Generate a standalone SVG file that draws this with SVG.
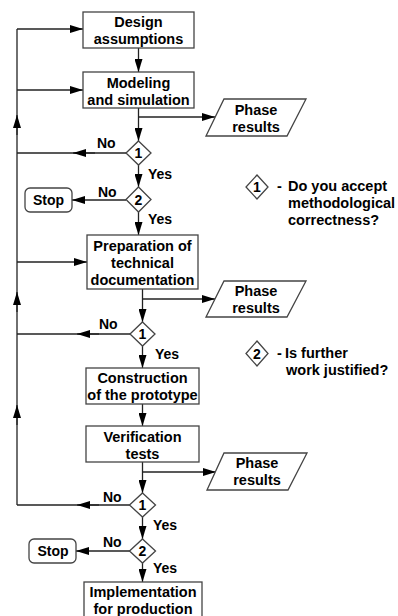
<svg xmlns="http://www.w3.org/2000/svg" width="398" height="616" viewBox="0 0 398 616">
<style>
.box{fill:#fff;stroke:#444;stroke-width:1.3}
.ln{fill:none;stroke:#222;stroke-width:1.3}
.t{font-family:"Liberation Sans",Arial,sans-serif;font-weight:bold;font-size:14.5px;fill:#000;text-anchor:middle}
.l{font-family:"Liberation Sans",Arial,sans-serif;font-weight:bold;font-size:14px;fill:#000}
.n{font-family:"Liberation Sans",Arial,sans-serif;font-weight:bold;font-size:14px;fill:#000;text-anchor:middle}
.lg{font-family:"Liberation Sans",Arial,sans-serif;font-weight:bold;font-size:14.5px;fill:#000}
</style>
<defs>
<marker id="ah" markerUnits="userSpaceOnUse" markerWidth="13" markerHeight="8" refX="13" refY="4" orient="auto">
<path d="M0,0 L13,4 L0,8 z" fill="#000"/>
</marker>
</defs>
<g id="connectors">
<line class="ln" x1="17" y1="505" x2="17" y2="29"/>
<line class="ln" x1="17" y1="135" x2="17" y2="115" marker-end="url(#ah)"/>
<line class="ln" x1="17" y1="312" x2="17" y2="292" marker-end="url(#ah)"/>
<line class="ln" x1="17" y1="425" x2="17" y2="405" marker-end="url(#ah)"/>
<line class="ln" x1="17" y1="29" x2="83" y2="29" marker-end="url(#ah)"/>
<line class="ln" x1="17" y1="90" x2="83" y2="90" marker-end="url(#ah)"/>
<line class="ln" x1="17" y1="262" x2="87" y2="262" marker-end="url(#ah)"/>
<line class="ln" x1="126" y1="153" x2="17" y2="153"/>
<line class="ln" x1="95" y1="153" x2="73" y2="153" marker-end="url(#ah)"/>
<line class="ln" x1="130" y1="334" x2="17" y2="334"/>
<line class="ln" x1="99" y1="334" x2="77" y2="334" marker-end="url(#ah)"/>
<line class="ln" x1="130" y1="505" x2="17" y2="505"/>
<line class="ln" x1="99" y1="505" x2="77" y2="505" marker-end="url(#ah)"/>
<line class="ln" x1="126" y1="200" x2="72" y2="200" marker-end="url(#ah)"/>
<line class="ln" x1="130" y1="551" x2="76" y2="551" marker-end="url(#ah)"/>
<line class="ln" x1="138.5" y1="48" x2="138.5" y2="72" marker-end="url(#ah)"/>
<line class="ln" x1="138.5" y1="108" x2="138.5" y2="141" marker-end="url(#ah)"/>
<line class="ln" x1="138.5" y1="165" x2="138.5" y2="187" marker-end="url(#ah)"/>
<line class="ln" x1="138.5" y1="212" x2="138.5" y2="235" marker-end="url(#ah)"/>
<line class="ln" x1="142.5" y1="289" x2="142.5" y2="322" marker-end="url(#ah)"/>
<line class="ln" x1="142.5" y1="346" x2="142.5" y2="368" marker-end="url(#ah)"/>
<line class="ln" x1="142.5" y1="404" x2="142.5" y2="426" marker-end="url(#ah)"/>
<line class="ln" x1="142.5" y1="462" x2="142.5" y2="493" marker-end="url(#ah)"/>
<line class="ln" x1="142.5" y1="517" x2="142.5" y2="539" marker-end="url(#ah)"/>
<line class="ln" x1="142.5" y1="563" x2="142.5" y2="582" marker-end="url(#ah)"/>
<line class="ln" x1="138.5" y1="117" x2="215" y2="117" marker-end="url(#ah)"/>
<line class="ln" x1="142.5" y1="299" x2="215" y2="299" marker-end="url(#ah)"/>
<line class="ln" x1="142.5" y1="472" x2="216" y2="472" marker-end="url(#ah)"/>
</g>
<g id="design">
<rect class="box" x="83" y="12" width="111" height="36"/>
<text class="t" x="138.5" y="27">Design</text>
<text class="t" x="138.5" y="44">assumptions</text>
</g>
<g id="modeling">
<rect class="box" x="83" y="72" width="111" height="36"/>
<text class="t" x="138.5" y="88">Modeling</text>
<text class="t" x="138.5" y="105">and simulation</text>
</g>
<g id="pr1">
<polygon class="box" points="224,99 306,99 287,136 206,136"/>
<text class="t" x="256" y="115">Phase</text>
<text class="t" x="256" y="132">results</text>
</g>
<g id="d1a">
<polygon class="box" points="138.5,141 151,153 138.5,165 126,153"/>
<text class="n" x="138.5" y="158">1</text>
<text class="l" x="97" y="148">No</text>
<text class="l" x="148" y="179">Yes</text>
</g>
<g id="d2a">
<polygon class="box" points="138.5,187 151,199.5 138.5,212 126,199.5"/>
<text class="n" x="138.5" y="204.5">2</text>
<text class="l" x="98" y="197">No</text>
<text class="l" x="148" y="224">Yes</text>
</g>
<g id="stop1">
<rect class="box" x="25" y="188" width="47" height="24" rx="5"/>
<text class="n" x="48.5" y="205">Stop</text>
</g>
<g id="legend1">
<polygon class="box" points="257,175 268,187 257,199 246,187"/>
<text class="n" x="257" y="192">1</text>
<text class="lg" x="277" y="191">-</text>
<text class="lg" x="288" y="191">Do you accept</text>
<text class="lg" x="288" y="208">methodological</text>
<text class="lg" x="288" y="225">correctness?</text>
</g>
<g id="preparation">
<rect class="box" x="87" y="235" width="111" height="54"/>
<text class="t" x="142.5" y="251">Preparation of</text>
<text class="t" x="142.5" y="268">technical</text>
<text class="t" x="142.5" y="285">documentation</text>
</g>
<g id="pr2">
<polygon class="box" points="224,281 306,281 287,317 206,317"/>
<text class="t" x="256" y="296">Phase</text>
<text class="t" x="256" y="313">results</text>
</g>
<g id="d1b">
<polygon class="box" points="142.5,322 155,334 142.5,346 130,334"/>
<text class="n" x="142.5" y="339">1</text>
<text class="l" x="99" y="329">No</text>
<text class="l" x="155" y="359">Yes</text>
</g>
<g id="legend2">
<polygon class="box" points="257,341 268,353.5 257,366 246,353.5"/>
<text class="n" x="257" y="358.5">2</text>
<text class="lg" x="277" y="358">-</text>
<text class="lg" x="285" y="358">Is further</text>
<text class="lg" x="286" y="375">work justified?</text>
</g>
<g id="construction">
<rect class="box" x="86" y="368" width="113" height="36"/>
<text class="t" x="142.5" y="383">Construction</text>
<text class="t" x="142.5" y="400">of the prototype</text>
</g>
<g id="verification">
<rect class="box" x="86" y="426" width="113" height="36"/>
<text class="t" x="142.5" y="442">Verification</text>
<text class="t" x="142.5" y="459">tests</text>
</g>
<g id="pr3">
<polygon class="box" points="224,453 307,453 288,490 207,490"/>
<text class="t" x="257" y="468">Phase</text>
<text class="t" x="257" y="485">results</text>
</g>
<g id="d1c">
<polygon class="box" points="142.5,493 155.5,505 142.5,517 129.5,505"/>
<text class="n" x="142.5" y="510">1</text>
<text class="l" x="103" y="502">No</text>
<text class="l" x="153" y="530">Yes</text>
</g>
<g id="d2c">
<polygon class="box" points="142.5,539 155.5,551 142.5,563 129.5,551"/>
<text class="n" x="142.5" y="556">2</text>
<text class="l" x="103" y="547">No</text>
<text class="l" x="153" y="573">Yes</text>
</g>
<g id="stop2">
<rect class="box" x="29" y="539" width="47" height="24" rx="5"/>
<text class="n" x="53" y="556">Stop</text>
</g>
<g id="implementation">
<rect class="box" x="84" y="582" width="118" height="40"/>
<text class="t" x="143" y="597">Implementation</text>
<text class="t" x="143" y="614">for production</text>
</g>
</svg>
